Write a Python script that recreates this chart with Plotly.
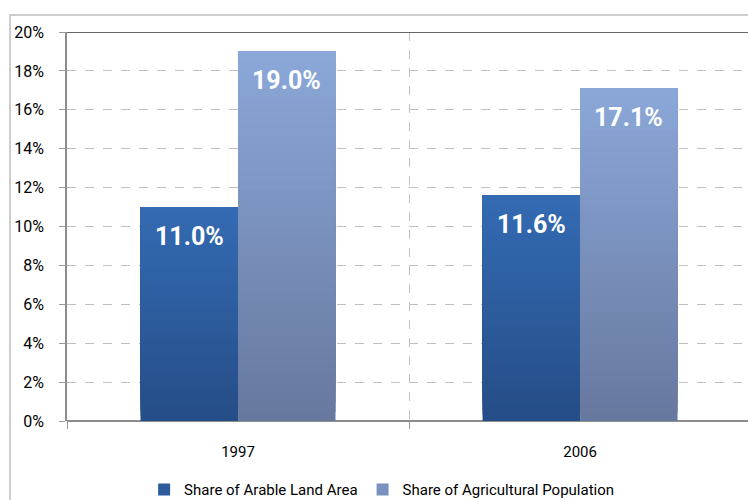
import plotly.graph_objects as go

# ---- data ----
years = ["1997", "2006"]
arable_share = [11.0, 11.6]
agri_pop_share = [19.0, 17.1]
series_names = ["Share of Arable Land Area", "Share of Agricultural Population"]
y_tick_values = [0, 2, 4, 6, 8, 10, 12, 14, 16, 18, 20]
y_tick_labels = [f"{v}%" for v in y_tick_values]

# ---- styling ----
FONT = "Liberation Sans Narrow, Arial Narrow, Roboto, sans-serif"
BAR_W = 0.285
N_SEG = 40
grad = {
    0: ((0x25, 0x4d, 0x86), (0x34, 0x6b, 0xb3)),  # bottom, top
    1: ((0x67, 0x78, 0x9e), (0x8b, 0xa8, 0xd9)),
}
offsets = [-BAR_W, 0.0]
series_vals = [arable_share, agri_pop_share]

def mix(c0, c1, t):
    return "rgb({},{},{})".format(*[round(a + (b - a) * t) for a, b in zip(c0, c1)])

xs = list(range(len(years)))
fig = go.Figure()

# gradient bars: each layer covers from its base up to the full value
for s, vals in enumerate(series_vals):
    c_bot, c_top = grad[s]
    for k in range(N_SEG):
        t = (k + 0.5) / N_SEG
        fig.add_trace(go.Bar(
            x=xs,
            y=[v - v * k / N_SEG for v in vals],
            base=[v * k / N_SEG for v in vals],
            width=BAR_W,
            offset=offsets[s],
            marker=dict(color=mix(c_bot, c_top, t), line=dict(width=0)),
            name=series_names[s],
            showlegend=(k == N_SEG // 2),
            legendrank=s + 1,
            hoverinfo="skip",
        ))

for s, vals in enumerate(series_vals):
    for i, v in enumerate(vals):
        fig.add_annotation(
            x=xs[i] + offsets[s] + BAR_W / 2, y=v, xref="x", yref="y",
            text=f"{v:.1f}%", showarrow=False, yanchor="top", yshift=-13,
            font=dict(family=FONT, size=25, color="white", weight="bold"),
        )

# top dark border line of plot area
fig.add_shape(type="line", xref="paper", yref="y", x0=0, x1=1, y0=20, y1=20,
              line=dict(color="#333333", width=1.3), layer="above")
# outer chart border
fig.add_shape(type="rect", xref="paper", yref="paper",
              x0=(10 - 67) / 681, x1=1.2, y0=-0.4, y1=(421 - 15) / 389,
              line=dict(color="#bdbdbd", width=1.5), layer="below")

fig.update_layout(
    width=748, height=500,
    margin=dict(l=67, r=0, t=32, b=79, autoexpand=False),
    paper_bgcolor="white", plot_bgcolor="white",
    barmode="overlay",
    font=dict(family=FONT, color="black"),
    legend=dict(orientation="h", x=0.462, xanchor="center", y=-0.177, yanchor="middle",
                font=dict(family=FONT, size=15, color="black"),
                itemwidth=30, traceorder="normal"),
    xaxis=dict(
        range=[-0.5, 1.491], tickvals=xs, ticktext=years, ticks="",
        tickfont=dict(family=FONT, size=15, color="black"),
        ticklabelstandoff=20, automargin=False,
        showline=False, zeroline=False, showgrid=False,
        minor=dict(tickvals=[-0.5, 0.5, 1.5], ticks="outside", ticklen=7,
                   tickcolor="#999999", showgrid=True, gridcolor="#c0c0c0",
                   griddash="dash", gridwidth=1),
    ),
    yaxis=dict(
        range=[0, 20], tickvals=y_tick_values, ticktext=y_tick_labels,
        ticks="outside", ticklen=6, tickcolor="#999999",
        tickfont=dict(family=FONT, size=16, color="black"),
        ticklabelstandoff=12, automargin=False,
        showline=True, linecolor="#8c8c8c", linewidth=1.5,
        showgrid=True, gridcolor="#c0c0c0", griddash="dash", gridwidth=1,
        zeroline=True, zerolinecolor="#8c8c8c", zerolinewidth=1.5,
    ),
)

fig.write_html("out.html",
               config={"displayModeBar": False},
               post_script="document.body.style.margin='0';document.body.style.overflow='hidden';")
